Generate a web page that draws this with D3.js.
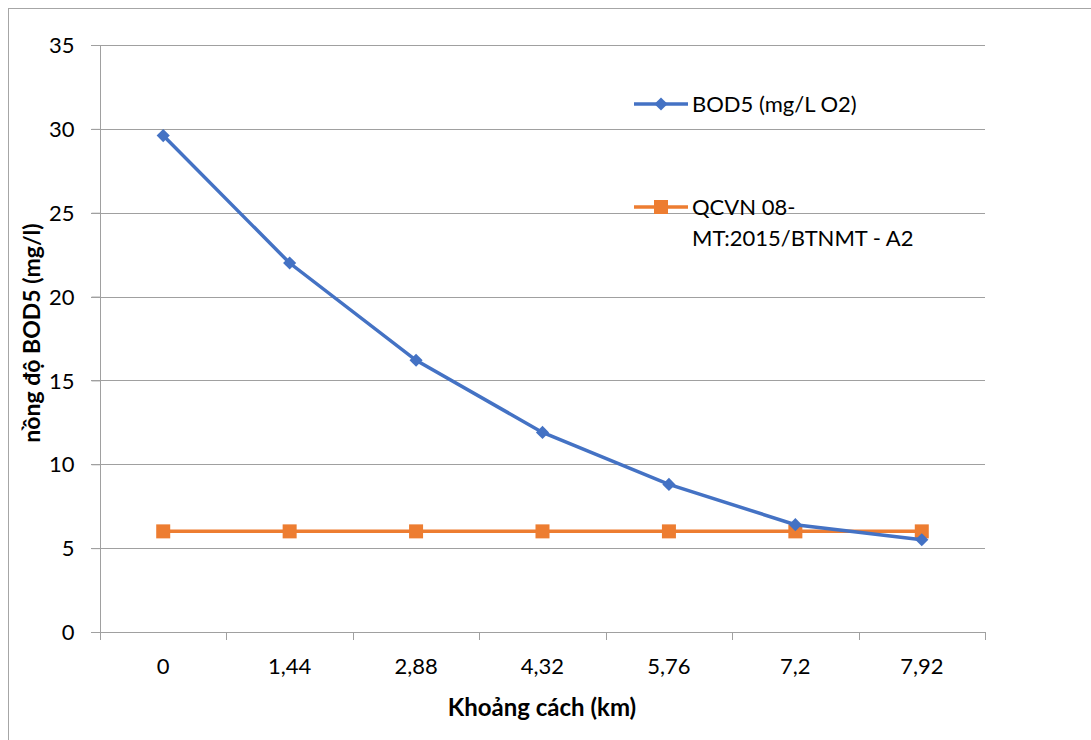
<!DOCTYPE html>
<html>
<head>
<meta charset="utf-8">
<script src="https://cdn.jsdelivr.net/npm/d3@7"></script>
<style>
  body { margin: 0; background: #fff; }
  text { font-family: Lato, "Open Sans", sans-serif; fill: #000; }
</style>
</head>
<body>
<div id="main_output"></div>
<script>
// chart values
var categories = ["0", "1,44", "2,88", "4,32", "5,76", "7,2", "7,92"];
var bodValues = [29.6, 22, 16.2, 11.9, 8.8, 6.4, 5.5];
var qcvnValues = [6, 6, 6, 6, 6, 6, 6];
var yTicks = [0, 5, 10, 15, 20, 25, 30, 35];
var seriesNames = ["BOD5 (mg/L O2)", ["QCVN 08-", "MT:2015/BTNMT - A2"]];

const blue = "#4472c4";
const orange = "#ed7d31";
const gridColour = "#a0a0a0";

const W = 1091, H = 740;
const plot = {left: 100, top: 45, right: 985, bottom: 632};
const fontSize = 22;

var svg = d3.select("#main_output").append("svg")
    .attr("width", W)
    .attr("height", H);

// outer chart border (only top and left show in the frame)
svg.append("rect")
    .attr("x", 8.5).attr("y", 8.5)
    .attr("width", W + 10).attr("height", H + 10)
    .attr("fill", "none")
    .attr("stroke", "#a6a6a6")
    .attr("stroke-width", 1);

const x = d3.scaleBand().domain(categories).range([plot.left, plot.right]);
const y = d3.scaleLinear().domain([0, 35]).range([plot.bottom, plot.top]);

// gridlines
svg.append("g")
    .selectAll("line")
    .data(yTicks.filter(function(d) { return d > 0; }))
    .enter().append("line")
    .attr("x1", plot.left - 9).attr("x2", plot.right)
    .attr("y1", function(d) { return Math.round(y(d)) + 0.5; })
    .attr("y2", function(d) { return Math.round(y(d)) + 0.5; })
    .attr("stroke", gridColour)
    .attr("stroke-width", 1);

// y axis
var yAxis = svg.append("g")
    .attr("transform", "translate(" + (plot.left + 0.5) + ",0)")
    .call(d3.axisLeft(y).tickValues(yTicks).tickSize(9).tickPadding(17));
yAxis.select(".domain").attr("stroke", gridColour).attr("d", "M0," + (plot.top) + "V" + (plot.bottom + 8));
yAxis.selectAll(".tick line").attr("stroke", gridColour);
yAxis.selectAll(".tick text").attr("font-size", fontSize).attr("dy", "0.35em");

// x axis line + ticks between categories
var xg = svg.append("g");
xg.append("line")
    .attr("x1", plot.left - 9).attr("x2", plot.right)
    .attr("y1", plot.bottom + 0.5).attr("y2", plot.bottom + 0.5)
    .attr("stroke", gridColour);
xg.selectAll(".xtick")
    .data(categories.slice(1).concat(["end"]))
    .enter().append("line")
    .attr("class", "xtick")
    .attr("x1", function(d, i) { return Math.round(plot.left + (i + 1) * x.bandwidth()) + 0.5; })
    .attr("x2", function(d, i) { return Math.round(plot.left + (i + 1) * x.bandwidth()) + 0.5; })
    .attr("y1", plot.bottom).attr("y2", plot.bottom + 8)
    .attr("stroke", gridColour);
xg.selectAll(".xlabel")
    .data(categories)
    .enter().append("text")
    .attr("class", "xlabel")
    .attr("x", function(d) { return x(d) + x.bandwidth() / 2; })
    .attr("y", plot.bottom + 42)
    .attr("text-anchor", "middle")
    .attr("font-size", fontSize)
    .text(function(d) { return d; });

// axis titles
svg.append("text")
    .attr("x", 542)
    .attr("y", 716)
    .attr("text-anchor", "middle")
    .attr("font-size", 24)
    .attr("font-weight", "bold")
    .text("Khoảng cách (km)");

svg.append("text")
    .attr("transform", "translate(40," + 333 + ") rotate(-90)")
    .attr("text-anchor", "middle")
    .attr("font-size", 23)
    .attr("font-weight", "bold")
    .text("nồng độ BOD5 (mg/l)");

var line = d3.line()
    .x(function(d, i) { return x(categories[i]) + x.bandwidth() / 2; })
    .y(function(d) { return y(d); });

var diamond = d3.symbol().type(d3.symbolDiamond2).size(110);

// QCVN series
svg.append("path")
    .datum(qcvnValues)
    .attr("fill", "none")
    .attr("stroke", orange)
    .attr("stroke-width", 3.5)
    .attr("d", line);
svg.selectAll(".sq")
    .data(qcvnValues)
    .enter().append("rect")
    .attr("class", "sq")
    .attr("x", function(d, i) { return x(categories[i]) + x.bandwidth() / 2 - 7; })
    .attr("y", function(d) { return y(d) - 7; })
    .attr("width", 14).attr("height", 14)
    .attr("fill", orange);

// BOD5 series
svg.append("path")
    .datum(bodValues)
    .attr("fill", "none")
    .attr("stroke", blue)
    .attr("stroke-width", 3.5)
    .attr("d", line);
svg.selectAll(".dm")
    .data(bodValues)
    .enter().append("path")
    .attr("class", "dm")
    .attr("transform", function(d, i) { return "translate(" + (x(categories[i]) + x.bandwidth() / 2) + "," + y(d) + ")"; })
    .attr("d", diamond)
    .attr("fill", blue);

// legend
var leg = svg.append("g");
leg.append("line").attr("x1", 634).attr("x2", 688).attr("y1", 104).attr("y2", 104)
    .attr("stroke", blue).attr("stroke-width", 3.5);
leg.append("path").attr("transform", "translate(661,104)").attr("d", diamond).attr("fill", blue);
leg.append("text").attr("x", 692).attr("y", 112).attr("font-size", fontSize).text(seriesNames[0]);

leg.append("line").attr("x1", 634).attr("x2", 688).attr("y1", 207).attr("y2", 207)
    .attr("stroke", orange).attr("stroke-width", 3.5);
leg.append("rect").attr("x", 654).attr("y", 200).attr("width", 14).attr("height", 14).attr("fill", orange);
leg.append("text").attr("x", 692).attr("y", 215).attr("font-size", fontSize).text(seriesNames[1][0]);
leg.append("text").attr("x", 692).attr("y", 246).attr("font-size", fontSize).text(seriesNames[1][1]);
</script>
</body>
</html>
